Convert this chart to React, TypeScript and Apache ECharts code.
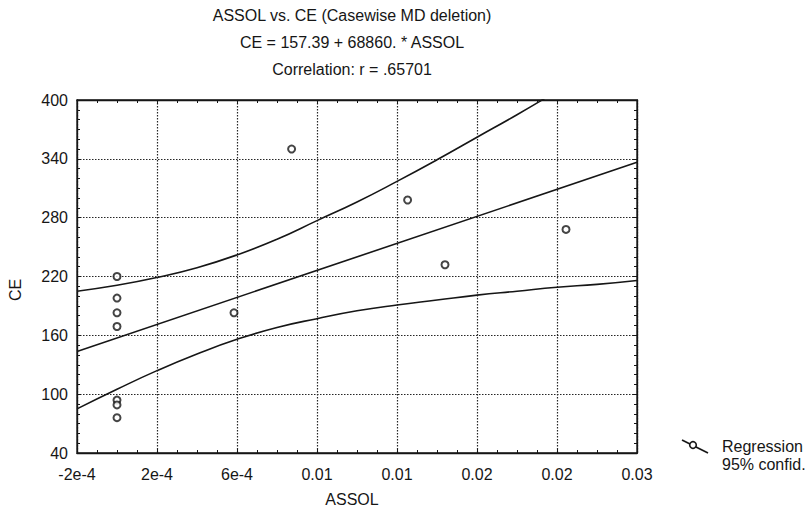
import React, { useEffect, useRef } from "react";
import * as echarts from "echarts";

// Observations (ASSOL, CE)
const assol = [0, 0, 0, 0, 0, 0, 0, 0.000585, 0.000873, 0.001453, 0.00164, 0.002245];
const ce = [220, 198, 183, 169, 94, 89, 76, 183, 350, 298, 232, 268];

// Regression line end points (CE = 157.39 + 68860 * ASSOL), read at axis ends
const regX = [-0.0002, 0.0026];
const regY = [143.6, 336.4];

// 95% confidence band
const bandX = [-0.0002, 0, 0.0002, 0.0004, 0.0006, 0.0008, 0.001, 0.0012, 0.0014, 0.0016, 0.0018, 0.002, 0.0022, 0.0024, 0.0026];
const bandUpper = [205, 211, 219, 229, 242, 258, 277, 296, 317, 339, 362, 385, 409, 433, 457];
const bandLower = [85, 105, 124, 141, 156, 168, 177, 185, 191, 196, 201, 205, 209, 212, 216];

// Axis ticks
const xMin = -0.0002;
const xMax = 0.0026;
const xStep = 0.0004;
const xTickLabels = ["-2e-4", "2e-4", "6e-4", "0.01", "0.01", "0.02", "0.02", "0.03"];
const yMin = 40;
const yMax = 400;
const yStep = 60;

const titleLines = [
  "ASSOL vs. CE (Casewise MD deletion)",
  "CE = 157.39 + 68860. * ASSOL",
  "Correlation: r = .65701",
];
const legendLabels = ["Regression", "95% confid."];

const INK = "#161616";
const FONT = "Liberation Sans, Arial, sans-serif";
const FS = 16;

export default function App() {
  const ref = useRef<HTMLDivElement>(null);

  useEffect(() => {
    if (!ref.current) return;
    const chart = echarts.init(ref.current, undefined, { renderer: "svg" });

    const frameAxisCommon = {
      axisLine: { show: true, onZero: false, lineStyle: { color: INK, width: 1.3 } },
      axisTick: { show: true, inside: true, length: 4, lineStyle: { color: INK } },
      minorTick: { show: true, length: 3, lineStyle: { color: INK } },
    };

    const toPairs = (xs: number[], ys: number[]) => xs.map((x, i) => [x, ys[i]]);

    chart.setOption({
      animation: false,
      backgroundColor: "#ffffff",
      textStyle: { fontFamily: FONT },
      grid: {
        left: 77,
        right: 174,
        top: 100,
        bottom: 57,
        show: true,
        borderColor: INK,
        borderWidth: 1.3,
        backgroundColor: "transparent",
      },
      xAxis: [
        {
          type: "value",
          position: "bottom",
          min: xMin,
          max: xMax,
          interval: xStep,
          ...frameAxisCommon,
          minorTick: { ...frameAxisCommon.minorTick, splitNumber: 4 },
          axisLabel: {
            color: INK,
            fontSize: FS,
            fontFamily: FONT,
            margin: 13,
            showMaxLabel: true,
            showMinLabel: true,
            formatter: (v: number) => {
              const i = Math.round((v - xMin) / xStep);
              return xTickLabels[i] ?? "";
            },
          },
          splitLine: {
            show: true,
            lineStyle: { color: "#262626", width: 1.2, type: [1.5, 1.5] },
          },
        },
        {
          type: "value",
          position: "top",
          min: xMin,
          max: xMax,
          interval: xStep,
          ...frameAxisCommon,
          minorTick: { ...frameAxisCommon.minorTick, splitNumber: 4 },
          axisLabel: { show: false },
          splitLine: { show: false },
        },
      ],
      yAxis: [
        {
          type: "value",
          position: "left",
          min: yMin,
          max: yMax,
          interval: yStep,
          ...frameAxisCommon,
          minorTick: { ...frameAxisCommon.minorTick, splitNumber: 6 },
          axisLabel: { color: INK, fontSize: FS, fontFamily: FONT, margin: 9 },
          splitLine: {
            show: true,
            lineStyle: { color: "#262626", width: 1.2, type: [1.5, 1.5] },
          },
        },
        {
          type: "value",
          position: "right",
          min: yMin,
          max: yMax,
          interval: yStep,
          ...frameAxisCommon,
          minorTick: { ...frameAxisCommon.minorTick, splitNumber: 6 },
          axisLabel: { show: false },
          splitLine: { show: false },
        },
      ],
      series: [
        {
          name: "95% confid. upper",
          type: "line",
          data: toPairs(bandX, bandUpper),
          smooth: true,
          showSymbol: false,
          clip: true,
          lineStyle: { color: INK, width: 1.6 },
          silent: true,
        },
        {
          name: "95% confid. lower",
          type: "line",
          data: toPairs(bandX, bandLower),
          smooth: true,
          showSymbol: false,
          clip: true,
          lineStyle: { color: INK, width: 1.6 },
          silent: true,
        },
        {
          name: "Regression",
          type: "line",
          data: toPairs(regX, regY),
          showSymbol: false,
          clip: true,
          lineStyle: { color: INK, width: 1.6 },
          silent: true,
        },
        {
          name: "CE",
          type: "scatter",
          data: toPairs(assol, ce),
          symbol: "emptyCircle",
          symbolSize: 7,
          itemStyle: { color: INK, borderColor: INK, borderWidth: 1.6 },
          silent: true,
        },
      ],
      graphic: [
        ...titleLines.map((t, i) => ({
          type: "text",
          x: 352,
          y: 15 + i * 27,
          style: {
            text: t,
            fill: INK,
            font: `${FS}px ${FONT}`,
            textAlign: "center",
            textVerticalAlign: "middle",
          },
        })),
        {
          type: "text",
          x: 352,
          y: 499,
          style: {
            text: "ASSOL",
            fill: INK,
            font: `${FS}px ${FONT}`,
            textAlign: "center",
            textVerticalAlign: "middle",
          },
        },
        {
          type: "text",
          x: 15,
          y: 290,
          rotation: Math.PI / 2,
          style: {
            text: "CE",
            fill: INK,
            font: `${FS}px ${FONT}`,
            textAlign: "center",
            textVerticalAlign: "middle",
          },
        },
        {
          type: "line",
          shape: { x1: 682, y1: 440, x2: 708, y2: 453 },
          style: { stroke: INK, lineWidth: 1.6 },
        },
        {
          type: "circle",
          shape: { cx: 693, cy: 445, r: 3.3 },
          style: { stroke: INK, lineWidth: 1.6, fill: "#ffffff" },
        },
        ...legendLabels.map((t, i) => ({
          type: "text",
          x: 722,
          y: 446 + i * 18,
          style: {
            text: t,
            fill: INK,
            font: `${FS}px ${FONT}`,
            textAlign: "left",
            textVerticalAlign: "middle",
          },
        })),
      ],
    });

    return () => chart.dispose();
  }, []);

  return (
    <div
      ref={ref}
      style={{ position: "absolute", left: 0, top: 0, width: 811, height: 510 }}
    />
  );
}
